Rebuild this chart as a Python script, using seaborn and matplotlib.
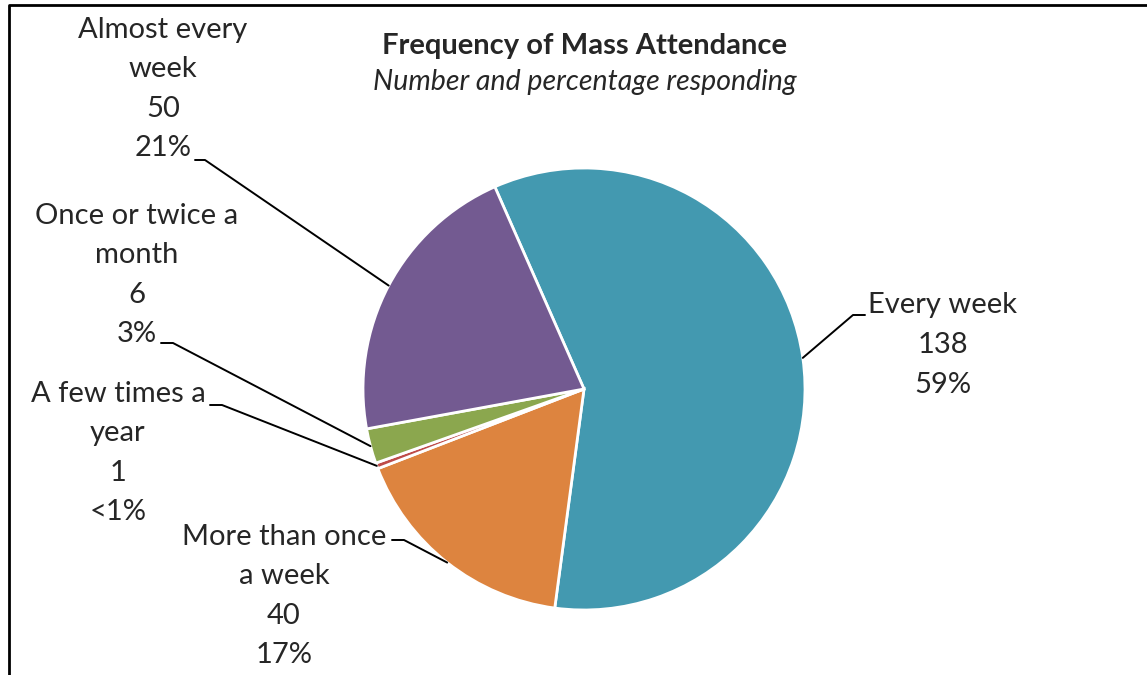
import numpy as np
import matplotlib
matplotlib.use("Agg")
import matplotlib.pyplot as plt
import seaborn as sns

sns.set_style("white")
plt.rcParams['font.family'] = ['Lato', 'DejaVu Sans']

# data, in the order the pie is drawn (clockwise from the top)
categories = ["Every week", "More than once a week", "A few times a year",
              "Once or twice a month", "Almost every week"]
counts = [138, 40, 1, 6, 50]
pct_labels = ["59%", "17%", "<1%", "3%", "21%"]
label_text = ["Every week", "More than once\na week", "A few times a\nyear",
              "Once or twice a\nmonth", "Almost every\nweek"]
colors = ["#4399B0", "#DD843F", "#BE4B48", "#8BA74E", "#735A91"]

W, H = 1147, 675
fig = plt.figure(figsize=(W / 100, H / 100), dpi=100)

# pie axes placed so the pie sits at (584, 389) px with radius 221 px
cx, cy, r = 584, 389, 221
pad = 1.1
side = 2 * r * pad
ax = fig.add_axes([(cx - side / 2) / W, (H - cy - side / 2) / H, side / W, side / H])
wedges, _ = ax.pie(counts, colors=colors, startangle=113.8, counterclock=False,
                   wedgeprops=dict(edgecolor="white", linewidth=2))
ax.set_xlim(-pad, pad)
ax.set_ylim(-pad, pad)
ax.set_aspect("equal")
ax.axis("off")

# overlay in pixel coordinates (origin top-left) for labels and leader lines
ov = fig.add_axes([0, 0, 1, 1], zorder=5)
ov.set_xlim(0, W)
ov.set_ylim(H, 0)
ov.axis("off")
ov.patch.set_alpha(0)

# frame (left and top only, like the cropped original)
ov.plot([9, 9, W], [H, 5, 5], color="black", lw=2, solid_capstyle="butt")

ov.text(585, 46, "Frequency of Mass Attendance", ha="center", va="center",
        fontsize=21, fontweight="bold")
ov.text(585, 82, "Number and percentage responding", ha="center", va="center",
        fontsize=20.5, style="italic")

# label layout: (text x, text y centre, tick start x, tick end x, tick y)
layout = [
    (943, 345, 865, 853, 315),
    (284, 596, 392, 404, 540),
    (118, 453, 210, 222, 405),
    (137, 275, 161, 173, 343),
    (163, 89, 195, 205, 160),
]

for w, name, n, p, (tx, ty, x0, x1, hy) in zip(wedges, label_text, counts, pct_labels, layout):
    ov.text(tx, ty, f"{name}\n{n}\n{p}", ha="center", va="center",
            fontsize=21, linespacing=1.65)
    mid = np.deg2rad((w.theta1 + w.theta2) / 2)
    px = cx + r * np.cos(mid)
    py = cy - r * np.sin(mid)
    ov.plot([x0, x1, px], [hy, hy, py], color="black", lw=1.4)

fig.savefig("out.png", dpi=100)
